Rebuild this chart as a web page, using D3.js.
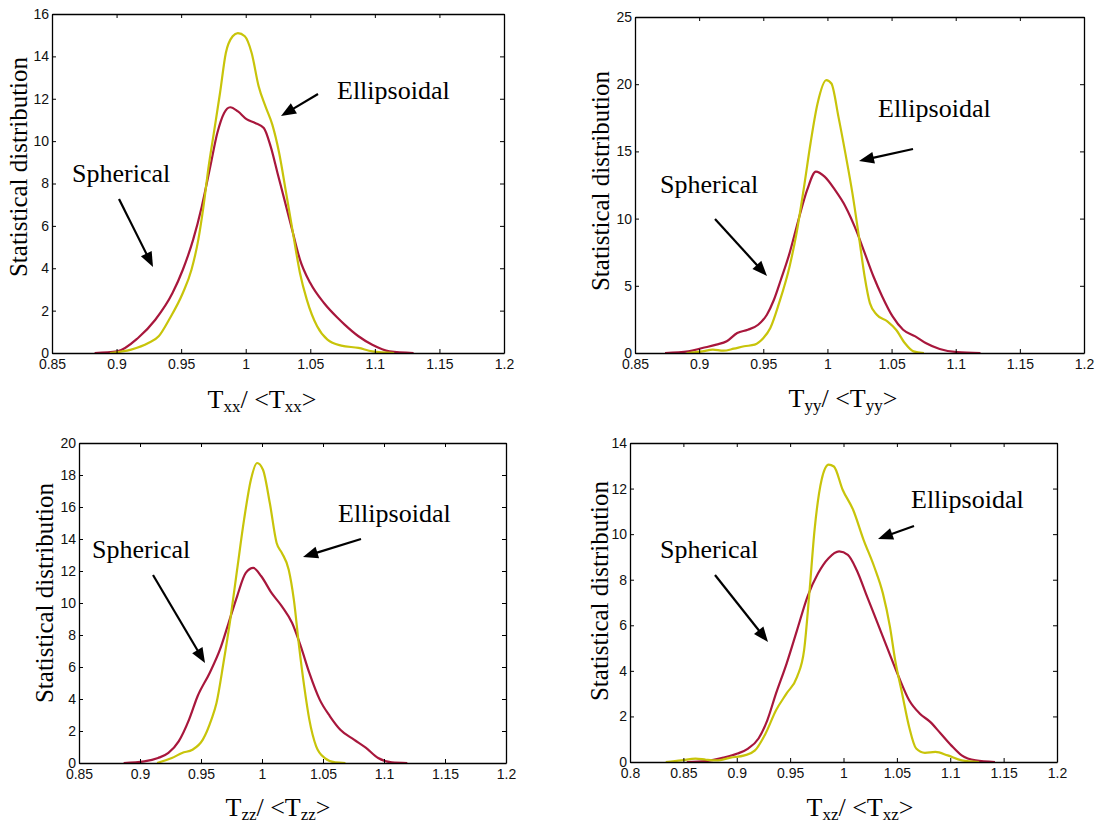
<!DOCTYPE html>
<html>
<head>
<meta charset="utf-8">
<script src="https://cdn.jsdelivr.net/npm/d3@7/dist/d3.min.js"></script>
<style>
  html, body { margin: 0; padding: 0; background: #fff; }
  svg { display: block; }
</style>
</head>
<body>
<svg id="chart" width="1096" height="824"></svg>
<script>
// ---- Tick values ----
const xTicksNarrow = [0.85, 0.9, 0.95, 1, 1.05, 1.1, 1.15, 1.2];
const xTicksWide   = [0.8, 0.85, 0.9, 0.95, 1, 1.05, 1.1, 1.15, 1.2];
const yTicksXX = [0, 2, 4, 6, 8, 10, 12, 14, 16];
const yTicksYY = [0, 5, 10, 15, 20, 25];
const yTicksZZ = [0, 2, 4, 6, 8, 10, 12, 14, 16, 18, 20];
const yTicksXZ = [0, 2, 4, 6, 8, 10, 12, 14];

// ---- Distributions: [T / <T>, density] ----
const txxSpherical = [
  [0.883,0],[0.9006,0.08],[0.9166,0.71],[0.930,1.57],[0.9433,2.83],[0.9513,3.93],
  [0.9593,5.35],[0.966,6.92],[0.9726,8.81],[0.978,10.38],[0.9833,11.33],[0.988,11.6],
  [0.994,11.4],[1.0006,11.04],[1.0073,10.86],[1.014,10.62],[1.0193,9.75],[1.0246,8.5],
  [1.0313,6.92],[1.0366,5.66],[1.042,4.41],[1.05,3.30],[1.0606,2.36],[1.0713,1.65],
  [1.0766,1.34],[1.0873,0.79],[1.098,0.39],[1.1113,0.08],[1.13,0]
];
const txxEllipsoidal = [
  [0.8948,0],[0.9113,0.16],[0.9246,0.47],[0.9326,0.79],[0.9406,1.57],[0.9513,2.83],
  [0.958,3.93],[0.9633,5.35],[0.9673,6.92],[0.9713,8.81],[0.9753,10.38],[0.9801,12.27],
  [0.9846,14.16],[0.9899,14.95],[0.9939,15.1],[0.9993,14.95],[1.0046,14.16],[1.01,12.59],
  [1.0153,11.64],[1.0206,10.78],[1.0259,9.44],[1.0313,7.55],[1.0366,5.66],[1.042,3.78],
  [1.0473,2.52],[1.0553,1.26],[1.0633,0.63],[1.074,0.35],[1.0873,0.24],[1.098,0.08],[1.115,0]
];
const tyySpherical = [
  [0.8734,0],[0.8916,0.12],[0.9025,0.37],[0.9134,0.62],[0.9215,0.87],[0.9297,1.49],
  [0.9379,1.73],[0.946,2.10],[0.9528,2.85],[0.9583,3.96],[0.9637,5.45],[0.9705,7.43],
  [0.9774,9.9],[0.9842,12.13],[0.991,13.49],[0.9978,13.12],[1.0059,12.13],[1.0141,10.89],
  [1.0223,9.16],[1.0291,7.43],[1.0359,5.69],[1.0427,4.21],[1.0508,2.72],[1.059,1.73],
  [1.0685,1.24],[1.0766,0.74],[1.0875,0.30],[1.1011,0.07],[1.1193,0]
];
const tyyEllipsoidal = [
  [0.8903,0],[0.9025,0.12],[0.9107,0.25],[0.9188,0.17],[0.927,0.32],[0.9351,0.5],
  [0.9433,0.62],[0.9501,1.11],[0.9555,1.86],[0.9623,3.71],[0.9705,6.44],[0.9759,8.91],
  [0.9814,12.13],[0.9868,15.59],[0.9923,18.56],[0.9991,20.3],[1.0031,20.05],[1.0086,17.57],
  [1.014,14.85],[1.0195,11.88],[1.0249,8.42],[1.029,5.69],[1.0331,3.71],[1.0385,2.85],
  [1.0467,2.35],[1.0535,1.73],[1.0603,0.74],[1.0671,0.12],[1.0752,0]
];
const tzzSpherical = [
  [0.8866,0],[0.9035,0.10],[0.9148,0.31],[0.9233,0.63],[0.9317,1.35],[0.9402,2.71],
  [0.9472,4.17],[0.9571,5.63],[0.9655,7.08],[0.9726,8.75],[0.9796,10.42],[0.9867,11.88],
  [0.9929,12.19],[0.9994,11.67],[1.0078,10.63],[1.0163,9.79],[1.0247,8.75],[1.0318,7.29],
  [1.0388,5.63],[1.0473,3.96],[1.0557,2.92],[1.0642,2.08],[1.0754,1.46],[1.0853,0.94],
  [1.0952,0.31],[1.1064,0.04],[1.1191,0]
];
const tzzEllipsoidal = [
  [0.914,0],[0.9261,0.31],[0.9345,0.63],[0.943,0.83],[0.9515,1.46],[0.9585,2.71],
  [0.9627,3.75],[0.9684,6.25],[0.974,8.96],[0.9796,12.08],[0.9853,15.21],[0.9909,17.71],
  [0.996,18.75],[1.0008,18.33],[1.0064,16.25],[1.012,13.75],[1.0163,13.13],[1.0219,12.08],
  [1.0261,10.21],[1.0304,7.29],[1.0346,4.79],[1.0388,2.71],[1.0444,1.04],[1.0515,0.31],
  [1.06,0.04],[1.0684,0]
];
const txzSpherical = [
  [0.8532,0],[0.8712,0.04],[0.8876,0.19],[0.9007,0.37],[0.9106,0.59],[0.9204,1.03],
  [0.9286,1.83],[0.9368,3.01],[0.9467,4.32],[0.9565,5.79],[0.9663,7.26],[0.9762,8.28],
  [0.986,8.94],[0.9959,9.24],[1.0041,9.09],[1.0123,8.43],[1.0221,7.26],[1.032,6.08],
  [1.0418,4.91],[1.0517,3.74],[1.0615,2.71],[1.0713,2.13],[1.0812,1.76],[1.091,1.25],
  [1.1009,0.73],[1.1107,0.29],[1.1238,0.07],[1.1419,0]
];
const txzEllipsoidal = [
  [0.8335,0],[0.8482,0.07],[0.8614,0.15],[0.8712,0.10],[0.881,0.07],[0.8942,0.19],
  [0.9073,0.29],[0.9171,0.51],[0.927,1.25],[0.9368,2.27],[0.9467,3.01],[0.9565,3.74],
  [0.9631,4.91],[0.968,7.40],[0.9729,10.19],[0.9795,12.39],[0.986,13.05],[0.991,12.97],
  [0.9992,11.95],[1.009,11.07],[1.0188,9.75],[1.0287,8.58],[1.0369,7.40],[1.0435,5.94],
  [1.0484,4.47],[1.0549,3.01],[1.0615,1.54],[1.0681,0.59],[1.0763,0.40],[1.0861,0.44],
  [1.0976,0.29],[1.1107,0.07],[1.1271,0]
];

// ---- Styling ----
const SPHERICAL_COLOR = "#a8173c";
const ELLIPSOIDAL_COLOR = "#c8c40a";
const SERIF = "'Liberation Serif', 'Times New Roman', serif";
const SANS = "'Liberation Sans', Arial, sans-serif";

// ---- Panel layout (pixel frame of each plot box, label and annotation placement) ----
const panels = [
  { sub: "xx", spherical: txxSpherical, ellipsoidal: txxEllipsoidal,
    xDomain: [0.85, 1.2], xTicks: xTicksNarrow, yMax: 16, yTicks: yTicksXX,
    box: { left: 52, right: 504, top: 14, bottom: 353 },
    yLabel: { x: 27, y: 167 }, xLabel: { x: 262, y: 408 },
    ellText: [337, 99], ellArrow: [318, 94, 281, 116],
    sphText: [72, 182], sphArrow: [119, 199, 153, 267] },
  { sub: "yy", spherical: tyySpherical, ellipsoidal: tyyEllipsoidal,
    xDomain: [0.85, 1.2], xTicks: xTicksNarrow, yMax: 25, yTicks: yTicksYY,
    box: { left: 635, right: 1084, top: 17, bottom: 353 },
    yLabel: { x: 609, y: 181 }, xLabel: { x: 843, y: 407 },
    ellText: [878, 117], ellArrow: [913, 149, 859, 161],
    sphText: [660, 193], sphArrow: [715, 219, 767, 276] },
  { sub: "zz", spherical: tzzSpherical, ellipsoidal: tzzEllipsoidal,
    xDomain: [0.85, 1.2], xTicks: xTicksNarrow, yMax: 20, yTicks: yTicksZZ,
    box: { left: 79, right: 506, top: 443, bottom: 763 },
    yLabel: { x: 53, y: 593 }, xLabel: { x: 278, y: 816 },
    ellText: [338, 522], ellArrow: [361, 539, 303, 557],
    sphText: [92, 558], sphArrow: [153, 575, 205, 663] },
  { sub: "xz", spherical: txzSpherical, ellipsoidal: txzEllipsoidal,
    xDomain: [0.8, 1.2], xTicks: xTicksWide, yMax: 14, yTicks: yTicksXZ,
    box: { left: 630, right: 1057, top: 443, bottom: 762 },
    yLabel: { x: 608, y: 591 }, xLabel: { x: 860, y: 816 },
    ellText: [911, 508], ellArrow: [914, 526, 878, 539],
    sphText: [660, 558], sphArrow: [715, 575, 768, 642] }
];

const svg = d3.select("#chart");
svg.append("rect").attr("width", 1096).attr("height", 824).attr("fill", "#fff");

const fmt = d => String(+d.toFixed(2));

function styleAxis(g) {
  g.attr("font-family", SANS).attr("font-size", 14);
  g.selectAll("path.domain").attr("stroke", "#000").attr("stroke-width", 1.3);
  g.selectAll(".tick line").attr("stroke", "#000").attr("stroke-width", 1);
  g.selectAll(".tick text").attr("fill", "#111");
}

function drawArrow(g, x1, y1, x2, y2) {
  const dx = x2 - x1, dy = y2 - y1;
  const len = Math.hypot(dx, dy);
  const ux = dx / len, uy = dy / len;
  const headLen = 15, headHalf = 6;
  const bx = x2 - ux * headLen, by = y2 - uy * headLen;
  g.append("line")
    .attr("x1", x1).attr("y1", y1).attr("x2", bx + ux * 2).attr("y2", by + uy * 2)
    .attr("stroke", "#000").attr("stroke-width", 2.2);
  g.append("path")
    .attr("d", `M${x2},${y2}L${bx - uy * headHalf},${by + ux * headHalf}L${bx + uy * headHalf},${by - ux * headHalf}Z`)
    .attr("fill", "#000");
}

panels.forEach(p => {
  const { left, right, top, bottom } = p.box;
  const x = d3.scaleLinear().domain(p.xDomain).range([left, right]);
  const y = d3.scaleLinear().domain([0, p.yMax]).range([bottom, top]);
  const g = svg.append("g");

  // Curves (spherical underneath, ellipsoidal on top)
  const line = d3.line().x(d => x(d[0])).y(d => y(d[1])).curve(d3.curveMonotoneX);
  g.append("path").datum(p.spherical)
    .attr("d", line).attr("fill", "none")
    .attr("stroke", SPHERICAL_COLOR).attr("stroke-width", 2.2)
    .attr("stroke-linejoin", "round");
  g.append("path").datum(p.ellipsoidal)
    .attr("d", line).attr("fill", "none")
    .attr("stroke", ELLIPSOIDAL_COLOR).attr("stroke-width", 2.2)
    .attr("stroke-linejoin", "round");

  // Box axes with inward ticks on all four sides
  g.append("g").attr("transform", `translate(0,${bottom})`)
    .call(d3.axisBottom(x).tickValues(p.xTicks).tickFormat(fmt)
      .tickSize(-4).tickSizeOuter(0).tickPadding(6))
    .call(styleAxis);
  g.append("g").attr("transform", `translate(0,${top})`)
    .call(d3.axisTop(x).tickValues(p.xTicks).tickFormat("")
      .tickSize(-4).tickSizeOuter(0))
    .call(styleAxis);
  g.append("g").attr("transform", `translate(${left},0)`)
    .call(d3.axisLeft(y).tickValues(p.yTicks).tickFormat(fmt)
      .tickSize(-4).tickSizeOuter(0).tickPadding(3))
    .call(styleAxis);
  g.append("g").attr("transform", `translate(${right},0)`)
    .call(d3.axisRight(y).tickValues(p.yTicks).tickFormat("")
      .tickSize(-4).tickSizeOuter(0))
    .call(styleAxis);

  // Y axis title
  g.append("text")
    .attr("transform", `translate(${p.yLabel.x},${p.yLabel.y}) rotate(-90)`)
    .attr("text-anchor", "middle")
    .attr("font-family", SERIF).attr("font-size", 25)
    .text("Statistical distribution");

  // X axis title: T_sub / <T_sub>
  const xt = g.append("text")
    .attr("x", p.xLabel.x).attr("y", p.xLabel.y)
    .attr("text-anchor", "middle")
    .attr("font-family", SERIF).attr("font-size", 26);
  xt.append("tspan").text("T");
  xt.append("tspan").attr("font-size", 17).attr("dy", 4).text(p.sub);
  xt.append("tspan").attr("dy", -4).text("/ <T");
  xt.append("tspan").attr("font-size", 17).attr("dy", 4).text(p.sub);
  xt.append("tspan").attr("dy", -4).text(">");

  // Annotations
  g.append("text")
    .attr("x", p.ellText[0]).attr("y", p.ellText[1])
    .attr("font-family", SERIF).attr("font-size", 26)
    .text("Ellipsoidal");
  g.append("text")
    .attr("x", p.sphText[0]).attr("y", p.sphText[1])
    .attr("font-family", SERIF).attr("font-size", 26)
    .text("Spherical");
  drawArrow(g, ...p.ellArrow);
  drawArrow(g, ...p.sphArrow);
});
</script>
</body>
</html>
